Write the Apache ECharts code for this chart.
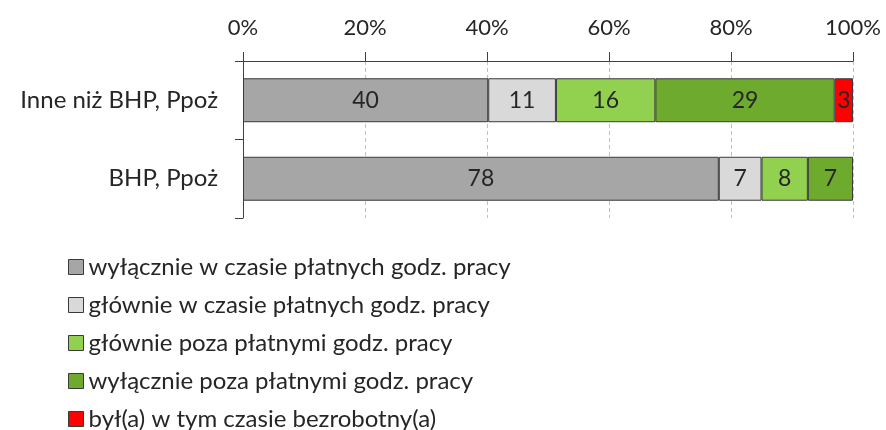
<!DOCTYPE html>
<html>
<head>
<meta charset="utf-8">
<script src="https://cdn.jsdelivr.net/npm/echarts@6/dist/echarts.min.js"></script>
<style>html,body{margin:0;padding:0;background:#fff;}#c{width:886px;height:430px;}</style>
</head>
<body>
<div id="c"></div>
<script>
var categories = ['Inne niż BHP, Ppoż', 'BHP, Ppoż'];
var seriesNames = [
  'wyłącznie w czasie płatnych godz. pracy',
  'głównie w czasie płatnych godz. pracy',
  'głównie poza płatnymi godz. pracy',
  'wyłącznie poza płatnymi godz. pracy',
  'był(a) w tym czasie bezrobotny(a)'
];
var s1 = [40.2, 78.0];
var s2 = [11.1, 7.0];
var s3 = [16.3, 7.6];
var s4 = [29.4, 7.4];
var s5 = [3.0, 0];
var colors = ['#A6A6A6', '#D9D9D9', '#92D050', '#6EAA2E', '#FF0000'];
var tickLabels = [0, 20, 40, 60, 80, 100];

var FONT = 'Lato';
var allData = [s1, s2, s3, s4, s5];
var series = allData.map(function (d, i) {
  return {
    name: seriesNames[i],
    type: 'bar',
    stack: 'total',
    barWidth: '56%',
    data: d.map(function (v) { return v === 0 ? null : v; }),
    itemStyle: { color: colors[i], borderColor: '#3a3a3a', borderWidth: 1 },
    label: {
      show: true,
      position: 'inside',
      color: '#262626',
      fontFamily: FONT,
      fontSize: 23,
      formatter: function (p) { return Math.round(p.value); }
    }
  };
});

var chart = echarts.init(document.getElementById('c'), null, { renderer: 'canvas' });
chart.setOption({
  animation: false,
  color: colors,
  grid: { left: 243, right: 33, top: 61, bottom: 212, containLabel: false },
  xAxis: {
    type: 'value',
    position: 'top',
    min: 0, max: 100, interval: 20,
    axisLine: { show: true, lineStyle: { color: '#404040', width: 1 } },
    axisTick: { show: true, length: 9, lineStyle: { color: '#404040' } },
    axisLabel: { formatter: function (v) { return tickLabels[v / 20] + '%'; }, color: '#262626', fontFamily: FONT, fontSize: 22, margin: 22 },
    splitLine: { show: true, lineStyle: { color: '#BFBFBF', type: [4, 3], width: 1 } }
  },
  yAxis: {
    type: 'category',
    inverse: true,
    data: categories,
    axisLine: { show: true, lineStyle: { color: '#404040', width: 1 } },
    axisTick: { show: true, length: 8, lineStyle: { color: '#404040' } },
    axisLabel: { color: '#262626', fontFamily: FONT, fontSize: 24, margin: 25 }
  },
  legend: {
    orient: 'vertical',
    left: 68,
    top: 255,
    height: 230,
    padding: 0,
    itemWidth: 15,
    itemHeight: 15,
    itemGap: 14,
    icon: 'rect',
    selectedMode: false,
    itemStyle: { borderColor: '#3a3a3a', borderWidth: 1 },
    textStyle: { color: '#262626', fontFamily: FONT, fontSize: 24, padding: [0, 0, 0, 0] },
    data: seriesNames
  },
  series: series
});
</script>
</body>
</html>
